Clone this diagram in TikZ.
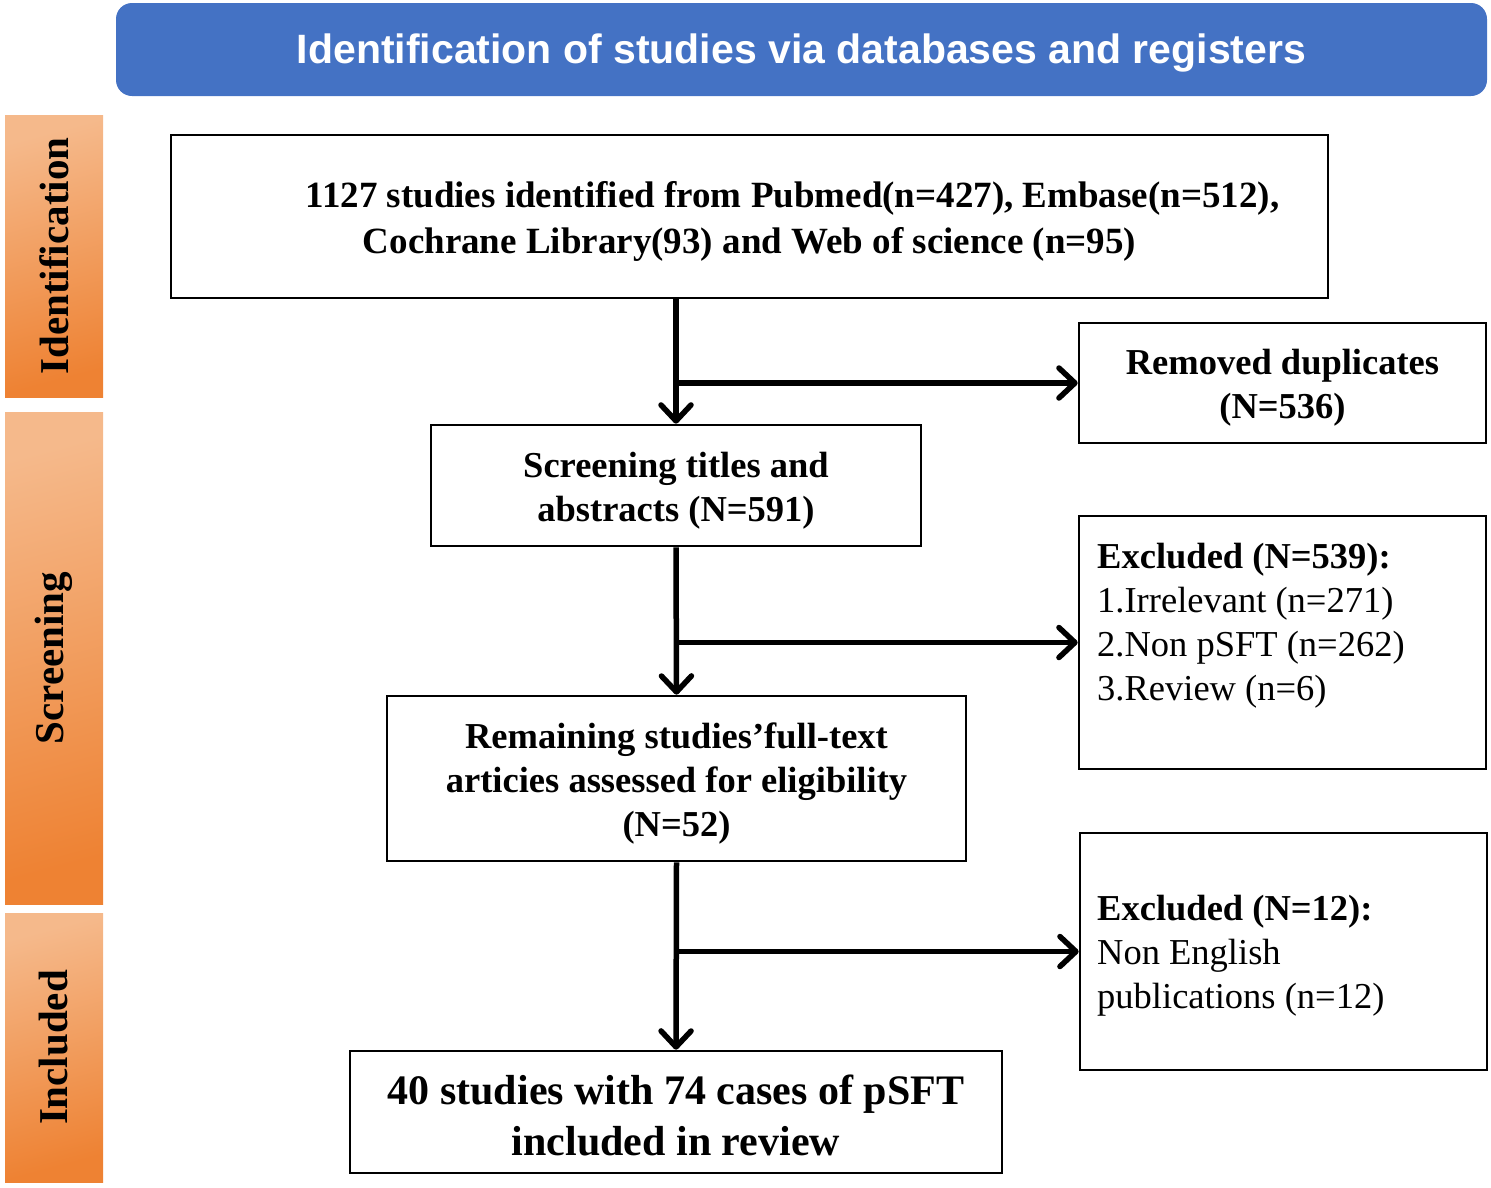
\documentclass[tikz,border=0pt]{standalone}
\usepackage{fontspec}
\setmainfont{Liberation Serif}
\newfontfamily\hdrfont{Liberation Sans}
\usetikzlibrary{arrows.meta}
\definecolor{hdrblue}{HTML}{4472C4}
\definecolor{orlight}{HTML}{F5B98B}
\definecolor{ordark}{HTML}{EE8233}
\begin{document}
\begin{tikzpicture}[x=1pt,y=-1pt,
  box/.style={draw=black, line width=2.6pt, inner sep=0pt},
  boxtext/.style={inner sep=0pt, align=center, yshift=-5pt,
    font=\bfseries\fontsize{36.5}{44}\selectfont},
  sidebar/.style={top color=orlight, bottom color=ordark, shading angle=15, draw=none, minimum width=98pt, inner sep=0pt},
  sidelabel/.style={rotate=90, font=\bfseries\fontsize{41}{48}\selectfont, inner sep=0pt},
  exctext/.style={anchor=north west, align=left, inner sep=0pt, font=\fontsize{36.5}{44}\selectfont},
  arr/.style={line width=5.5pt, -{Straight Barb[length=16pt, width=30pt, line cap=round, line join=round]}}]
\useasboundingbox (0,0) rectangle (1491,1187);

% header
\node[fill=hdrblue, rounded corners=16pt, minimum width=1371pt, minimum height=93pt, inner sep=0pt] (hdr) at (801.5,49.5) {};
\node[inner sep=0pt, yshift=-3pt, text=white, font=\hdrfont\bfseries\fontsize{41}{49}\selectfont] (hdrt) at (hdr.center)
  {Identification of studies via databases and registers};

% side bars
\node[sidebar, minimum height=282pt] (sb1) at (54,256) {};
\node[sidebar, minimum height=492pt] (sb2) at (54,658) {};
\node[sidebar, minimum height=269pt] (sb3) at (54,1047.5) {};
\node[sidelabel] (sl1) at (sb1.center) {Identification};
\node[sidelabel] (sl2) at (sb2.center) {Screening};
\node[sidelabel] (sl3) at (sb3.center) {Included};

% main boxes
\node[box, minimum width=1157pt, minimum height=163pt] (b1) at (749.5,216.5) {};
\node[boxtext, font=\bfseries\fontsize{37}{46}\selectfont] (b1t) at (b1.center)
  {\hspace*{86pt}1127 studies identified from Pubmed(n=427), Embase(n=512),\\
   Cochrane Library(93) and Web of science (n=95)};
\node[box, minimum width=490pt, minimum height=121pt] (b2) at (676,485.5) {};
\node[boxtext] (b2t) at (b2.center) {Screening titles and\\abstracts (N=591)};
\node[box, minimum width=579pt, minimum height=165pt] (b3) at (676.5,778.5) {};
\node[boxtext] (b3t) at (b3.center)
  {Remaining studies’full-text\\articies assessed for eligibility\\(N=52)};
\node[box, minimum width=652pt, minimum height=122pt] (b4) at (676,1112) {};
\node[boxtext, yshift=2pt, font=\bfseries\fontsize{42}{51}\selectfont] (b4t) at (b4.center)
  {40 studies with 74 cases of pSFT\\included in review};

% side boxes
\node[box, minimum width=407pt, minimum height=120pt] (rem) at (1282.5,383) {};
\node[boxtext] (remt) at (rem.center) {Removed duplicates\\(N=536)};
\node[box, minimum width=407pt, minimum height=253pt] (ex1) at (1282.5,642.5) {};
\node[exctext] (ex1t) at (1097,543)
  {\textbf{Excluded (N=539):}\\1.Irrelevant (n=271)\\2.Non pSFT (n=262)\\3.Review (n=6)};
\node[box, minimum width=407pt, minimum height=237pt] (ex2) at (1283.5,951.5) {};
\node[exctext] (ex2t) at (1097,895)
  {\textbf{Excluded (N=12):}\\Non English\\publications (n=12)};

% connectors
\draw[arr] (b2.north |- b1.south) -- (b2.north);
\draw[arr] (b2.north |- rem.west) -- (rem.west);
\draw[arr] (b2.south) -- (b3.north);
\draw[arr] (b2.south |- ex1.west) -- (ex1.west);
\draw[arr] (b3.south) -- (b4.north);
\draw[arr] (b3.south |- ex2.west) -- (ex2.west);
\end{tikzpicture}
\end{document}
